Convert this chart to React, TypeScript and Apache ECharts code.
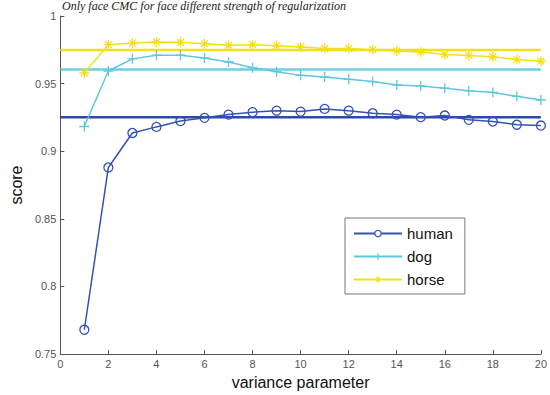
import React, { useEffect, useRef } from "react";
import * as echarts from "echarts";

const xValues = [1, 2, 3, 4, 5, 6, 7, 8, 9, 10, 11, 12, 13, 14, 15, 16, 17, 18, 19, 20];
const humanScores = [0.768, 0.888, 0.9135, 0.918, 0.9223, 0.9247, 0.9271, 0.9289, 0.930, 0.9293, 0.9313, 0.930, 0.9281, 0.9271, 0.9252, 0.9264, 0.9232, 0.922, 0.9196, 0.919];
const dogScores = [0.9183, 0.9593, 0.9683, 0.971, 0.971, 0.969, 0.966, 0.9618, 0.9588, 0.9561, 0.9549, 0.9532, 0.9515, 0.949, 0.9483, 0.9466, 0.9447, 0.9435, 0.9406, 0.9379];
const horseScores = [0.958, 0.9788, 0.980, 0.9808, 0.9805, 0.9795, 0.9783, 0.9788, 0.978, 0.9771, 0.9759, 0.9759, 0.9751, 0.9742, 0.9734, 0.9715, 0.9708, 0.9698, 0.9678, 0.9666];
const baselineHuman = 0.9252;
const baselineDog = 0.9605;
const baselineHorse = 0.9749;
const xRange = [0, 20];
const seriesNames = ["human", "dog", "horse"];
const xTitle = "variance parameter";
const yTitle = "score";
const topCaption = "Only face CMC for face different strength of regularization";

const PLUS = "path://M5 0L5 10M0 5L10 5";
const STAR = "path://M5 0L5 10M0 5L10 5M1.6 1.6L8.4 8.4M8.4 1.6L1.6 8.4";

export default function App() {
  const ref = useRef<HTMLDivElement>(null);
  useEffect(() => {
    if (!ref.current) return;
    const chart = echarts.init(ref.current, null, { renderer: "svg" });
    const pts = (ys: number[]) => xValues.map((x, i) => [x, ys[i]]);
    const flat = (v: number) => xRange.map((x) => [x, v]);
    const blue = "#3352b3";
    const cyan = "#5ec8dc";
    const yellow = "#f2e11a";
    chart.setOption({
      animation: false,
      backgroundColor: "#ffffff",
      textStyle: { fontFamily: "Liberation Sans, Arial, sans-serif" },
      grid: { left: 57, right: 3, top: 16, bottom: 37, containLabel: false },
      graphic: [
        {
          type: "text",
          left: 62,
          top: 0,
          style: {
            text: topCaption,
            fontFamily: "Liberation Serif, serif",
            fontStyle: "italic",
            fontSize: 12,
            fill: "#222",
          },
        },
      ],
      xAxis: {
        type: "value",
        min: 0,
        max: 20,
        interval: 2,
        name: xTitle,
        nameLocation: "middle",
        nameGap: 16,
        nameTextStyle: { fontSize: 16, color: "#111" },
        axisLine: { lineStyle: { color: "#555", width: 1 } },
        axisTick: { inside: true, length: 4, lineStyle: { color: "#555" } },
        axisLabel: { color: "#555", fontSize: 11, margin: 4 },
        splitLine: { show: false },
      },
      yAxis: {
        type: "value",
        min: 0.75,
        max: 1,
        interval: 0.05,
        name: yTitle,
        nameLocation: "middle",
        nameGap: 28,
        nameTextStyle: { fontSize: 16, color: "#111" },
        axisLine: { show: true, lineStyle: { color: "#555", width: 1 } },
        axisTick: { show: true, inside: true, length: 4, lineStyle: { color: "#555" } },
        axisLabel: { color: "#555", fontSize: 11, margin: 4 },
        splitLine: { show: false },
      },
      legend: {
        data: seriesNames,
        orient: "vertical",
        left: 345,
        top: 218,
        itemWidth: 48,
        itemHeight: 8,
        itemGap: 8,
        padding: [8, 12, 7, 8],
        backgroundColor: "#ffffff",
        borderColor: "#777",
        borderWidth: 1,
        borderRadius: 0,
        itemStyle: { color: "#ffffff", borderWidth: 1.2 },
        textStyle: { fontSize: 15, color: "#111" },
      },
      series: [
        { name: "horseBase", type: "line", data: flat(baselineHorse), symbol: "none", lineStyle: { color: yellow, width: 2.5 }, silent: true, z: 1 },
        { name: "dogBase", type: "line", data: flat(baselineDog), symbol: "none", lineStyle: { color: "#6fcfe0", width: 2.5 }, silent: true, z: 1 },
        { name: "humanBase", type: "line", data: flat(baselineHuman), symbol: "none", lineStyle: { color: "#2d49aa", width: 2.5 }, silent: true, z: 1 },
        {
          name: "human",
          type: "line",
          data: pts(humanScores),
          symbol: "circle",
          symbolSize: 9,
          showSymbol: true,
          lineStyle: { color: blue, width: 1.5 },
          itemStyle: { color: "rgba(255,255,255,0)", borderColor: blue, borderWidth: 1.3 },
          z: 3,
        },
        {
          name: "dog",
          type: "line",
          data: pts(dogScores),
          symbol: PLUS,
          symbolSize: 10,
          lineStyle: { color: cyan, width: 1.5 },
          itemStyle: { color: cyan, borderColor: cyan, borderWidth: 1.3 },
          z: 3,
        },
        {
          name: "horse",
          type: "line",
          data: pts(horseScores),
          symbol: STAR,
          symbolSize: 10,
          lineStyle: { color: yellow, width: 1.5 },
          itemStyle: { color: yellow, borderColor: yellow, borderWidth: 1.3 },
          z: 3,
        },
      ],
    });
    return () => chart.dispose();
  }, []);
  return (
    <div
      ref={ref}
      style={{ position: "fixed", left: 0, top: 0, width: 550, height: 395, background: "#fff" }}
    />
  );
}
